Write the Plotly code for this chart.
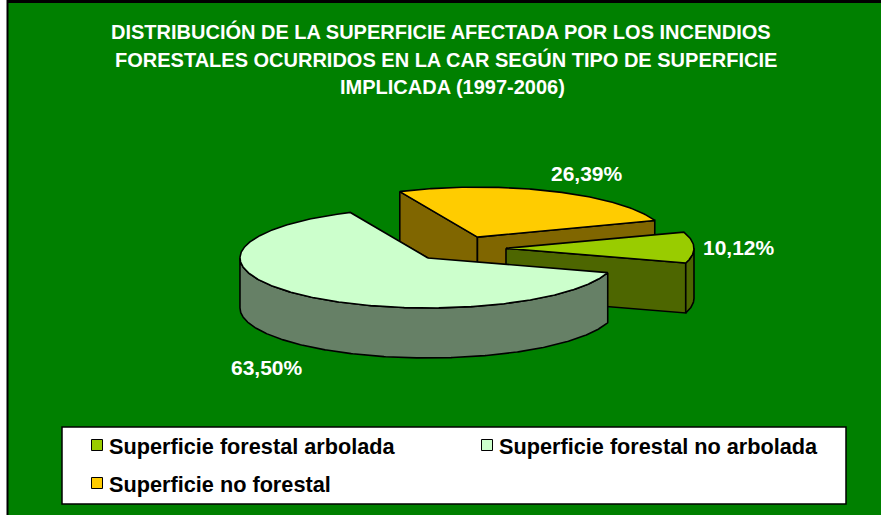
import numpy as np
import plotly.graph_objects as go

# ---------------- data ----------------
categories = ["Superficie forestal arbolada",
              "Superficie forestal no arbolada",
              "Superficie no forestal"]
values = [10.12, 63.50, 26.39]
value_labels = ["10,12%", "63,50%", "26,39%"]
title_lines = ["DISTRIBUCIÓN DE LA SUPERFICIE AFECTADA POR LOS INCENDIOS",
               "FORESTALES OCURRIDOS EN LA CAR SEGÚN TIPO DE SUPERFICIE",
               "IMPLICADA (1997-2006)"]

# ---------------- style / layout constants ----------------
top_colors = ["#99CC00", "#CCFFCC", "#FFCC00"]
side_colors = ["#4D6600", "#668066", "#806600"]
BG = "#008000"
FONT = "Liberation Sans, Arial, sans-serif"

W, H = 881, 515
CX, CY = 459.0, 248.6      # pie centre (pixels)
RA, RB = 188.0, 50.0       # ellipse radii
DEPTH = 50.0               # thickness of the pie
EXPLODE = 0.25             # explosion (fraction of radius)
START = 19.4               # start angle (deg, ccw from 3 o'clock)
LINE = dict(color="black", width=1.6)
LABEL_POS = [(739, 247), (267, 367), (587, 173)]
TITLE_X = [441, 446, 452]
TITLE_Y0, TITLE_DY = 31, 28
LEG_BOX = (62, 846, 427, 504)
LEG_ITEMS = [(97, 445), (487, 445), (97, 483)]   # marker centres
LEG_MARK = 5.5
LEG_TEXT_DX = 10
LEG_FONT = 21.7

fig = go.Figure()


def rim(ax, ay, th_deg, dz=0.0):
    t = np.radians(th_deg)
    return ax + RA * np.cos(t), ay - RB * np.sin(t) + dz


def add_poly(xs, ys, color):
    xs = list(xs) + [xs[0]]
    ys = list(ys) + [ys[0]]
    fig.add_trace(go.Scatter(x=xs, y=ys, mode="lines", fill="toself",
                             fillcolor=color, line=LINE, hoverinfo="skip",
                             showlegend=False))


total = sum(values)
slices = []
th = START
for i, v in enumerate(values):
    span = 360.0 * v / total
    ts, te = th, th - span
    mid = (ts + te) / 2.0
    m = np.radians(mid)
    ax = CX + EXPLODE * RA * np.cos(m)
    ay = CY - EXPLODE * RB * np.sin(m)
    slices.append(dict(i=i, ts=ts, te=te, mid=mid, ax=ax, ay=ay))
    th = te

# paint back slices first
order = sorted(slices, key=lambda s: -np.sin(np.radians(s["mid"])))
for s in order:
    i, ts, te, ax, ay = s["i"], s["ts"], s["te"], s["ax"], s["ay"]
    # radial cut faces
    for ang, vis in ((ts, np.cos(np.radians(ts)) < 0),
                     (te, np.cos(np.radians(te)) > 0)):
        if vis:
            rx, ry = rim(ax, ay, ang)
            add_poly([ax, rx, rx, ax], [ay, ry, ry + DEPTH, ay + DEPTH],
                     side_colors[i])
    # outer wall (front half of the rim)
    for k in range(-2, 3):
        lo = max(te, -180 + 360 * k)
        hi = min(ts, 0 + 360 * k)
        if hi - lo > 0.01:
            angs = np.linspace(hi, lo, max(int((hi - lo) * 2), 2))
            tx, ty = rim(ax, ay, angs)
            bx, by = rim(ax, ay, angs[::-1], DEPTH)
            add_poly(np.concatenate([tx, bx]), np.concatenate([ty, by]),
                     side_colors[i])
    # top face
    angs = np.linspace(ts, te, max(int((ts - te) * 2), 2))
    tx, ty = rim(ax, ay, angs)
    add_poly(np.concatenate([[ax], tx]), np.concatenate([[ay], ty]),
             top_colors[i])

annotations = []
# value labels
for i, lab in enumerate(value_labels):
    lx, ly = LABEL_POS[i]
    annotations.append(dict(x=lx, y=ly, xref="x", yref="y",
                            text="<b>%s</b>" % lab, showarrow=False,
                            font=dict(family=FONT, size=21, color="white")))

# title (three lines, Excel-like spacing)
for j, t in enumerate(title_lines):
    annotations.append(dict(x=TITLE_X[j], y=TITLE_Y0 + TITLE_DY * j,
                            xref="x", yref="y",
                            text="<b>%s</b>" % t, showarrow=False,
                            font=dict(family=FONT, size=20, color="white")))

shapes = [
    dict(type="rect", xref="x", yref="y", x0=0, x1=7, y0=0, y1=H,
         fillcolor="white", line=dict(width=0), layer="above"),
    dict(type="line", xref="x", yref="y", x0=7.5, x1=7.5, y0=0, y1=H,
         line=dict(color="black", width=2), layer="above"),
    dict(type="line", xref="x", yref="y", x0=7, x1=W, y0=1.5, y1=1.5,
         line=dict(color="black", width=3), layer="above"),
    # legend box
    dict(type="rect", xref="x", yref="y", x0=LEG_BOX[0], x1=LEG_BOX[1],
         y0=LEG_BOX[2], y1=LEG_BOX[3], fillcolor="white",
         line=dict(color="black", width=1.5), layer="above"),
]

# legend entries (one per category)
for i, c in enumerate(categories):
    mx, my = LEG_ITEMS[i]
    shapes.append(dict(type="rect", xref="x", yref="y",
                       x0=mx - LEG_MARK, x1=mx + LEG_MARK,
                       y0=my - LEG_MARK, y1=my + LEG_MARK,
                       fillcolor=top_colors[i],
                       line=dict(color="black", width=1), layer="above"))
    annotations.append(dict(x=mx + LEG_TEXT_DX, y=my + 1, xref="x",
                            yref="y", xanchor="left", yanchor="middle",
                            text="<b>%s</b>" % c, showarrow=False,
                            font=dict(family=FONT, size=LEG_FONT,
                                      color="black")))

fig.update_layout(
    width=W, height=H, margin=dict(l=0, r=0, t=0, b=0),
    paper_bgcolor=BG, plot_bgcolor=BG,
    xaxis=dict(range=[0, W], visible=False, fixedrange=True),
    yaxis=dict(range=[H, 0], visible=False, fixedrange=True),
    annotations=annotations, shapes=shapes,
    showlegend=False,
    font=dict(family=FONT),
)

fig.write_html("out.html",
               config={"displayModeBar": False},
               post_script="document.body.style.margin='0px';"
                           "document.body.style.overflow='hidden';")
